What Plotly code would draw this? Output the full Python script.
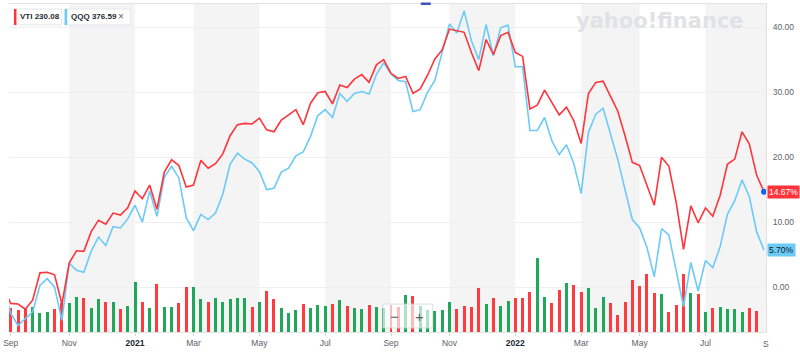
import plotly.graph_objects as go
import pandas as pd

# ---------------- data (weekly, Mondays) ----------------
dates = pd.date_range("2020-08-31", periods=105, freq="7D")

vti_pct = [0.0, -2.5, -2.6, -3.4, -2.0, 2.2, 2.3, 1.9, -2.6, 3.7,
           5.6, 5.5, 8.5, 10.3, 9.7, 11.4, 11.1, 12.2, 14.8, 13.6,
           15.7, 12.0, 17.7, 19.6, 18.7, 15.4, 15.7, 19.5, 18.3, 19.0,
           20.5, 23.3, 25.0, 25.2, 25.1, 26.0, 24.2, 23.9, 25.7, 26.5,
           27.3, 25.0, 28.3, 29.9, 30.1, 28.2, 31.1, 30.7, 32.0, 32.7,
           31.5, 34.2, 35.0, 32.9, 32.1, 32.4, 29.8, 30.5, 32.6, 35.1,
           36.5, 39.7, 39.4, 39.2, 36.1, 33.3, 38.1, 35.8, 38.7, 39.2,
           36.1, 35.5, 27.4, 28.0, 30.3, 28.4, 26.5, 27.7, 25.6, 22.1,
           29.8, 31.5, 31.7, 29.4, 27.1, 23.3, 19.2, 18.7, 15.6, 12.6,
           20.0, 18.6, 13.0, 5.8, 12.5, 9.9, 12.2, 10.9, 14.1, 18.9,
           19.7, 23.9, 22.0, 17.2, 14.67]

qqq_pct = [0.0, -4.0, -5.9, -4.8, -3.8, 0.3, 1.3, 0.0, -5.1, 3.7,
           2.6, 2.3, 5.5, 7.7, 6.4, 9.3, 9.1, 10.5, 12.6, 10.0,
           14.8, 10.9, 16.9, 18.6, 16.8, 10.7, 8.7, 11.2, 10.4, 11.4,
           14.3, 18.9, 20.6, 19.7, 19.1, 17.8, 15.0, 15.2, 17.7, 18.3,
           20.2, 20.8, 23.2, 26.4, 27.3, 26.1, 29.8, 28.6, 29.8, 30.1,
           29.7, 32.7, 34.5, 32.8, 31.8, 31.6, 27.0, 27.3, 30.0, 31.8,
           36.0, 40.5, 39.1, 42.5, 37.9, 35.0, 40.4, 35.6, 39.9, 40.3,
           33.9, 33.9, 24.1, 24.1, 26.1, 22.5, 20.4, 21.9, 19.0, 14.4,
           23.8, 26.6, 27.5, 23.6, 19.7, 15.0, 10.4, 9.1, 6.1, 1.6,
           9.0, 8.0, 2.6, -3.0, 3.8, -0.6, 4.1, 3.0, 6.2, 11.2,
           13.3, 16.5, 13.9, 8.5, 5.70]

# VTI weekly volume (millions), weeks 2..104
volume_m = [14.2, 13.2, 13.8, 15.2, 11.6, 11.8, 14.0, 17.2, 17.6, 21.2,
            20.2, 14.2, 19.6, 18.0, 17.8, 13.8, 15.6, 30.2, 18.0, 14.6,
            28.8, 15.0, 15.0, 17.2, 26.8, 26.8, 19.8, 18.0, 20.2, 17.8,
            19.6, 20.6, 20.2, 15.0, 18.0, 24.6, 19.6, 14.2, 11.6, 13.2,
            16.6, 14.2, 16.0, 15.8, 16.6, 19.2, 15.6, 14.2, 14.0, 16.2,
            15.2, 14.6, 16.2, 15.0, 22.2, 21.6, 15.8, 13.2, 12.8, 13.2,
            18.2, 13.6, 15.6, 15.2, 26.2, 16.6, 20.6, 15.6, 18.6, 20.6,
            20.6, 24.2, 44.8, 20.8, 17.2, 25.2, 29.2, 28.2, 24.0, 26.2,
            14.2, 21.2, 17.2, 10.2, 17.8, 31.2, 27.8, 34.8, 23.2, 22.6,
            12.2, 16.2, 34.8, 23.2, 22.8, 12.2, 14.6, 15.2, 13.8, 13.6,
            12.2, 14.6, 12.6]

legend_labels = ["VTI 230.08", "QQQ 376.59"]
last_labels = ["14.67%", "5.70%"]
y_ticks = [0, 10, 20, 30, 40]

RED = "#ff333a"
BLUE = "#6ccaf7"
GREEN = "#1fa75a"
VRED = "#ff3b40"
FONT = "Liberation Sans"

vol_dates = dates[1:1 + len(volume_m)]
vol_colors = [VRED if vti_pct[i + 1] < vti_pct[i] else GREEN for i in range(len(volume_m))]

# ---------------- month ticks (first weekly bar of odd months) ----------------
tick_vals, tick_text = [], []
prev_month = None
for d in dates:
    if d.month != prev_month and d.month in (1, 3, 5, 7, 9, 11):
        tick_vals.append(d)
        if d.month == 1:
            tick_text.append("<span style='color:#232a31'><b>%d</b></span>" % d.year)
        else:
            tick_text.append(d.strftime("%b"))
    prev_month = d.month

x_range = ["2020-09-05 09:06", "2022-08-30 22:19"]

# ---------------- pixel helpers for decorations ----------------
L, R, T, B = 5, 34, 3, 20
W, H = 800, 352
PW, PH = W - L - R, H - T - B


def px(x):
    return (x - L) / PW


def py(y):
    return (H - B - y) / PH


fig = go.Figure()

fig.add_trace(go.Bar(
    x=vol_dates, y=volume_m, marker_color=vol_colors, marker_line_width=0,
    width=246_800_000, yaxis="y", hoverinfo="skip", showlegend=False))

fig.add_trace(go.Scatter(
    x=dates, y=qqq_pct, mode="lines", line=dict(color=BLUE, width=1.6),
    yaxis="y2", showlegend=False, hoverinfo="skip"))
fig.add_trace(go.Scatter(
    x=dates, y=vti_pct, mode="lines", line=dict(color=RED, width=1.6),
    yaxis="y2", showlegend=False, hoverinfo="skip"))
fig.add_trace(go.Scatter(
    x=[dates[-1]], y=[vti_pct[-1]], mode="markers",
    marker=dict(color="#1366f0", size=6), yaxis="y2",
    showlegend=False, hoverinfo="skip", cliponaxis=False))

shapes = []
# alternating month bands
for i in range(1, len(tick_vals), 2):
    x0 = tick_vals[i]
    x1 = tick_vals[i + 1] if i + 1 < len(tick_vals) else x_range[1]
    shapes.append(dict(type="rect", xref="x", yref="paper", x0=x0, x1=x1, y0=0, y1=1,
                       fillcolor="#f4f4f4", line_width=0, layer="below"))

# legend chips
chips = [(10, 58, RED), (61, 127, BLUE)]
for x0, x1, c in chips:
    shapes.append(dict(type="rect", xref="paper", yref="paper",
                       x0=px(x0), x1=px(x1), y0=py(24), y1=py(8),
                       fillcolor="white", line=dict(color="#e3e6ea", width=1)))
    shapes.append(dict(type="rect", xref="paper", yref="paper",
                       x0=px(x0), x1=px(x0 + 2.5), y0=py(24), y1=py(8),
                       fillcolor=c, line_width=0))

# event marker at top
shapes.append(dict(type="rect", xref="paper", yref="paper",
                   x0=px(419), x1=px(429), y0=py(4), y1=py(1.5),
                   fillcolor="#4352b8", line_width=0))

# zoom control box
shapes.append(dict(type="rect", xref="paper", yref="paper",
                   x0=px(381), x1=px(431), y0=py(328), y1=py(304),
                   fillcolor="rgba(255,255,255,0.65)",
                   line=dict(color="rgba(210,214,218,0.8)", width=1)))

LEG_FONT = dict(family=FONT, size=8, color="#232a31", weight=600)
annotations = [
    dict(text=legend_labels[0], xref="paper", yref="paper", x=px(14), y=py(16),
         xanchor="left", yanchor="middle", showarrow=False, font=LEG_FONT),
    dict(text=legend_labels[1], xref="paper", yref="paper", x=px(65), y=py(16),
         xanchor="left", yanchor="middle", showarrow=False, font=LEG_FONT),
    dict(text="×", xref="paper", yref="paper", x=px(118), y=py(16),
         xanchor="center", yanchor="middle", showarrow=False,
         font=dict(family=FONT, size=10, color="#5b636a")),
    dict(text="<b>yahoo!finance</b>", xref="paper", yref="paper", x=px(659), y=py(20),
         xanchor="center", yanchor="middle", showarrow=False,
         font=dict(family="DejaVu Sans", size=21, color="#e1e2e5")),
    dict(text=last_labels[0], xref="paper", yref="y2", x=1, y=vti_pct[-1],
         xanchor="left", yanchor="middle", showarrow=False, bgcolor=RED,
         borderpad=1, xshift=1,
         font=dict(family=FONT, size=8.5, color="white")),
    dict(text=last_labels[1], xref="paper", yref="y2", x=1, y=qqq_pct[-1],
         xanchor="left", yanchor="middle", showarrow=False, bgcolor=BLUE,
         borderpad=1, xshift=1,
         font=dict(family=FONT, size=8.5, color="#0b1b2c")),
    dict(text="−", xref="paper", yref="paper", x=px(393), y=py(316),
         xanchor="center", yanchor="middle", showarrow=False,
         font=dict(family=FONT, size=15, color="#5b636a")),
    dict(text="+", xref="paper", yref="paper", x=px(418), y=py(316),
         xanchor="center", yanchor="middle", showarrow=False,
         font=dict(family=FONT, size=15, color="#5b636a")),
    dict(text="S", xref="paper", yref="paper", x=px(766), y=py(344),
         xanchor="center", yanchor="middle", showarrow=False,
         font=dict(family=FONT, size=8.5, color="#5b636a")),
]

fig.update_layout(
    width=W, height=H, autosize=False,
    margin=dict(l=L, r=R, t=T, b=B, pad=0),
    paper_bgcolor="white", plot_bgcolor="white",
    showlegend=False, bargap=0,
    font=dict(family=FONT, size=8.5, color="#5b636a"),
    xaxis=dict(type="date", range=x_range, tickmode="array",
               tickvals=tick_vals, ticktext=tick_text,
               showgrid=False, zeroline=False,
               showline=True, linecolor="#e2e2e2", linewidth=1, mirror=True,
               ticks="outside", ticklen=3, tickcolor="#d4d4d4",
               ticklabeloverflow="allow",
               tickfont=dict(family=FONT, size=8.5, color="#5b636a")),
    yaxis=dict(range=[0, 197.4], visible=False, fixedrange=True),
    yaxis2=dict(overlaying="y", side="right", range=[-6.9, 43.56],
                tickmode="array", tickvals=y_ticks, tickformat=".2f",
                ticksuffix="%", showgrid=True, gridcolor="#efefef",
                gridwidth=1, zeroline=False,
                showline=True, linecolor="#e2e2e2", linewidth=1,
                ticks="", ticklabelstandoff=4,
                tickfont=dict(family=FONT, size=8.5, color="#5b636a")),
    shapes=shapes,
    annotations=annotations,
)

fig.write_html("out.html")
